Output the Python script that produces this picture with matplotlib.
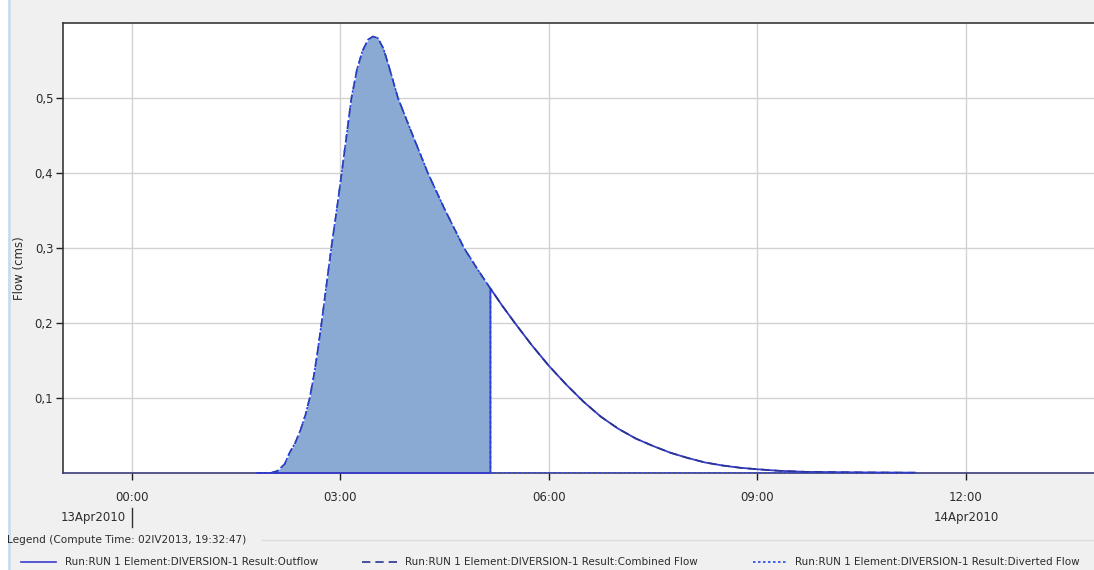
import matplotlib
matplotlib.use("Agg")
import matplotlib.pyplot as plt
from matplotlib.lines import Line2D
from matplotlib.patches import Rectangle
from matplotlib.transforms import blended_transform_factory

# Hours after 13Apr2010 00:00 and combined flow (cms)
hours = [1.80, 2.00, 2.10, 2.20, 2.27, 2.35, 2.43, 2.50, 2.56, 2.62, 2.67, 2.73,
         2.80, 2.87, 2.95, 3.02, 3.09, 3.16, 3.24, 3.32, 3.40, 3.47, 3.54, 3.62,
         3.70, 3.83, 4.00, 4.26, 4.50, 4.78, 5.00, 5.16, 5.33, 5.52, 5.75, 6.00,
         6.25, 6.50, 6.75, 7.00, 7.25, 7.50, 7.75, 8.00, 8.25, 8.50, 8.75, 9.00,
         9.30, 9.70, 10.50, 11.27]
combined = [0.0, 0.0, 0.003, 0.012, 0.027, 0.040, 0.058, 0.078, 0.100, 0.130,
            0.160, 0.200, 0.250, 0.300, 0.352, 0.400, 0.450, 0.500, 0.538, 0.563,
            0.578, 0.582, 0.580, 0.566, 0.542, 0.500, 0.460, 0.400, 0.352, 0.300,
            0.268, 0.246, 0.223, 0.199, 0.171, 0.143, 0.118, 0.095, 0.075, 0.059,
            0.046, 0.036, 0.027, 0.020, 0.014, 0.010, 0.007, 0.005, 0.003, 0.0015,
            0.0008, 0.0004]
diversion_end = 5.16  # diverted flow stops here

x_ticks = [0, 3, 6, 9, 12]
x_tick_labels = ["00:00", "03:00", "06:00", "09:00", "12:00"]
y_ticks = [0.1, 0.2, 0.3, 0.4, 0.5]
y_tick_labels = ["0,1", "0,2", "0,3", "0,4", "0,5"]
day_labels = ["13Apr2010", "14Apr2010"]
legend_title = "Legend (Compute Time: 02IV2013, 19:32:47)"
series_names = ["Run:RUN 1 Element:DIVERSION-1 Result:Outflow",
                "Run:RUN 1 Element:DIVERSION-1 Result:Combined Flow",
                "Run:RUN 1 Element:DIVERSION-1 Result:Diverted Flow"]

# split combined flow into diverted part and remaining outflow
cut = hours.index(diversion_end)
div_t = hours[:cut + 1] + [diversion_end, hours[-1]]
div_v = combined[:cut + 1] + [0.0, 0.0]
out_t = [hours[0], diversion_end] + hours[cut:]
out_v = [0.0, 0.0] + combined[cut:]

W, H = 1094, 570
plt.rcParams['font.family'] = ['DejaVu Sans']
fig = plt.figure(figsize=(W / 100, H / 100), dpi=100, facecolor="#f0f0f0")

def fx(px):
    return px / W

def fy(py):
    return 1 - py / H

# window edge strip on the left
fig.add_artist(Rectangle((0, 0), fx(8), 1, transform=fig.transFigure,
                         facecolor="white", edgecolor="none", zorder=0))
fig.add_artist(Line2D([fx(8.5), fx(8.5)], [0, 1], transform=fig.transFigure,
                      color="#c9dcef", lw=2, zorder=0))

px_per_hour = 69.5
x_min, x_max = -0.99, 14.2
ax_left, ax_top, ax_bottom = 63, 23, 473
ax = fig.add_axes([fx(ax_left), fy(ax_bottom),
                   (x_max - x_min) * px_per_hour / W, (ax_bottom - ax_top) / H])
ax.set_facecolor("white")
ax.set_xlim(x_min, x_max)
ax.set_ylim(0, 0.6)

ax.set_xticks(x_ticks)
ax.set_xticklabels(x_tick_labels)
ax.set_yticks(y_ticks)
ax.set_yticklabels(y_tick_labels)
ax.tick_params(axis="both", direction="out", length=5, width=1, color="#202020",
               labelsize=8.5, labelcolor="#2c2c2c")
ax.tick_params(axis="x", pad=8)
ax.tick_params(axis="y", pad=2)
ax.grid(True, color="#d2d2d2", lw=1)
ax.set_axisbelow(True)
for side in ["top", "left", "bottom"]:
    ax.spines[side].set_color("#383838")
    ax.spines[side].set_linewidth(1.2)
ax.spines["bottom"].set_color("#3a3a78")
ax.spines["right"].set_visible(False)
fig.text(fx(20), fy(268), "Flow (cms)", rotation=90, ha="center", va="center",
         fontsize=8.5, color="#2c2c2c")

ax.fill_between(div_t, div_v, 0, color="#8aaad3", lw=0, zorder=2)
ax.plot(out_t, out_v, color="#3b3bcc", lw=1.3, zorder=3, clip_on=False)
ax.plot(hours, combined, color="#27358f", lw=1.2, ls=(0, (5, 3)), zorder=4)
ax.plot(div_t, div_v, color="#2446f0", lw=1.2, ls=(0, (1.5, 1.5)), zorder=5)

# day labels under the time axis
tr = blended_transform_factory(ax.transData, fig.transFigure)
ax.text(-0.09, fy(517), day_labels[0], transform=tr, ha="right", va="center",
        fontsize=8.5, color="#2c2c2c")
fig.add_artist(Line2D([0, 0], [fy(508), fy(527)], transform=tr, color="#303030", lw=1))
ax.text(12, fy(517), day_labels[1], transform=tr, ha="center", va="center",
        fontsize=8.5, color="#2c2c2c")

# legend block
fig.text(fx(7), fy(540), legend_title, ha="left", va="center", fontsize=7.6,
         color="#2c2c2c")
fig.add_artist(Line2D([fx(262), 1], [fy(540), fy(540)], transform=fig.transFigure,
                      color="#dcdcdc", lw=1))
entry_y = fy(562)
samples = [(21, 56, "-", "#3b3bcc", 65),
           (362, 398, (0, (5, 3)), "#27358f", 405),
           (753, 788, (0, (1.5, 1.5)), "#2446f0", 795)]
for (x0, x1, ls, col, tx), name in zip(samples, series_names):
    fig.add_artist(Line2D([fx(x0), fx(x1)], [entry_y, entry_y], transform=fig.transFigure,
                          color=col, lw=1.2, ls=ls))
    fig.text(fx(tx), entry_y, name, ha="left", va="center", fontsize=7.45, color="#2c2c2c")

fig.savefig("out.png", dpi=100, facecolor=fig.get_facecolor())
